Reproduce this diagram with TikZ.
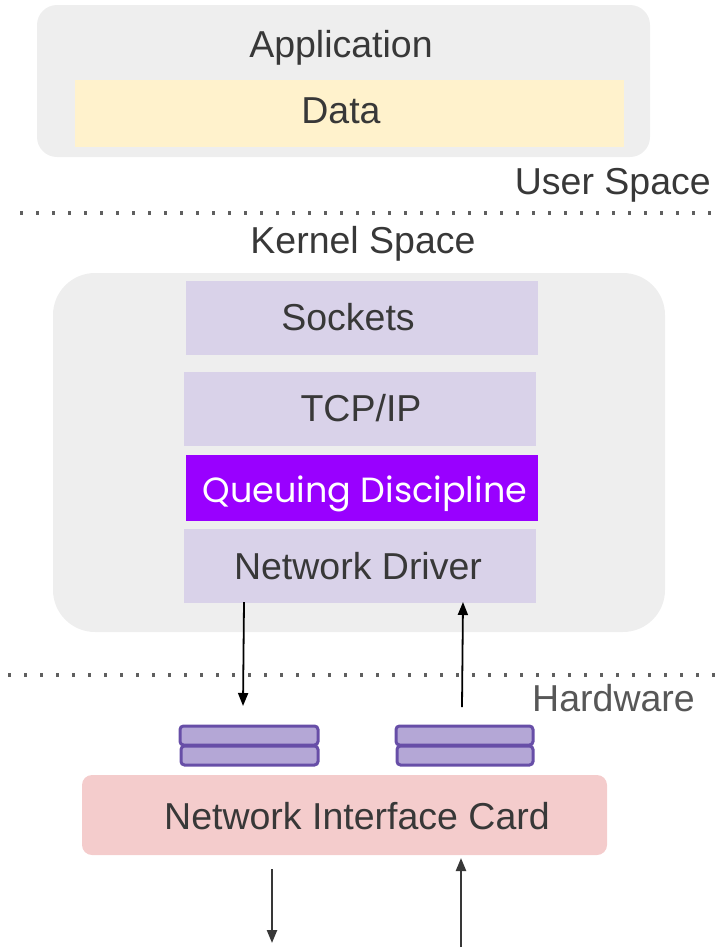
\documentclass[tikz,border=0pt]{standalone}
\usepackage{fontspec}
\setmainfont{Liberation Sans}
\newfontfamily\qfont{Poppins}
\usetikzlibrary{arrows.meta}
\definecolor{panel}{HTML}{EEEEEE}
\definecolor{datafill}{HTML}{FFF2CC}
\definecolor{layer}{HTML}{D9D2E9}
\definecolor{qdisc}{HTML}{9900FF}
\definecolor{ringfill}{HTML}{B4A7D6}
\definecolor{ringedge}{HTML}{674EA7}
\definecolor{nic}{HTML}{F4CCCC}
\definecolor{ink}{HTML}{383838}
\definecolor{dots}{HTML}{5F5F5F}
\tikzset{
  lbl/.style={font=\fontsize{37.5}{40}\selectfont, text=ink, anchor=base, inner sep=0pt},
  layerbox/.style={fill=layer, draw=none},
  ringslot/.style={fill=ringfill, draw=ringedge, line width=3pt, rounded corners=3.5pt},
  divider/.style={dots, line width=3.3pt, dash pattern=on 3.3pt off 12.7pt},
  flow/.style={black, line width=1.8pt, -{Triangle[length=13pt,width=10pt]}},
  wire/.style={ink, line width=2.3pt, -{Triangle[length=13pt,width=10pt]}}
}
\begin{document}
\begin{tikzpicture}[x=1pt,y=-1pt]
\useasboundingbox (0,0) rectangle (720,948);

% user space
\fill[panel, rounded corners=20pt] (37,5) rectangle (650,157);
\fill[datafill] (75,80) rectangle (624,147);
\node[lbl] (app) at (341,57) {Application};
\node[lbl] (data) at (341,123) {Data};
\node[lbl, anchor=base east] (user) at (711,194) {User Space};

\draw[divider] (20,213) -- (720,213);
\node[lbl] (kernel) at (363,253) {Kernel Space};

% kernel stack
\fill[panel, rounded corners=42pt] (53,273) rectangle (665,632);
\fill[layerbox] (186,281) rectangle (538,355);
\node[lbl] (sock) at (348,330) {Sockets};
\fill[layerbox] (184,372) rectangle (536,446);
\node[lbl] (tcp) at (361,421) {TCP/IP};
\fill[qdisc] (186,455) rectangle (538,521);
\node[lbl, text=white, font=\qfont\fontsize{35}{38}\selectfont] (qd) at (365,502) {Queuing Discipline};
\fill[layerbox] (184,529) rectangle (536,603);
\node[lbl] (drv) at (358,579) {Network Driver};

\coordinate (txtop) at (244,602);
\coordinate (txbot) at (243,706);
\coordinate (rxbot) at (462,707);
\coordinate (rxtop) at (463,602);
\draw[flow] (txtop) -- (txbot);
\draw[flow] (rxbot) -- (rxtop);

\draw[divider] (8,675) -- (720,675);
\node[lbl, text=dots!80!ink, anchor=base east] (hw) at (695,711) {Hardware};

% ring buffers
\draw[ringslot] (180,726) rectangle (318,745);
\draw[ringslot] (181,746) rectangle (318,765);
\draw[ringslot] (396,726) rectangle (533,745);
\draw[ringslot] (397,746) rectangle (533,765);

% NIC
\fill[nic, rounded corners=10pt] (82,775) rectangle (607,855);
\node[lbl] (card) at (357,829) {Network Interface Card};

\coordinate (outtop) at (272,869);
\coordinate (outbot) at (272,943);
\coordinate (inbot) at (461,947);
\coordinate (intop) at (461,858);
\draw[wire] (outtop) -- (outbot);
\draw[wire] (inbot) -- (intop);
\end{tikzpicture}
\end{document}
